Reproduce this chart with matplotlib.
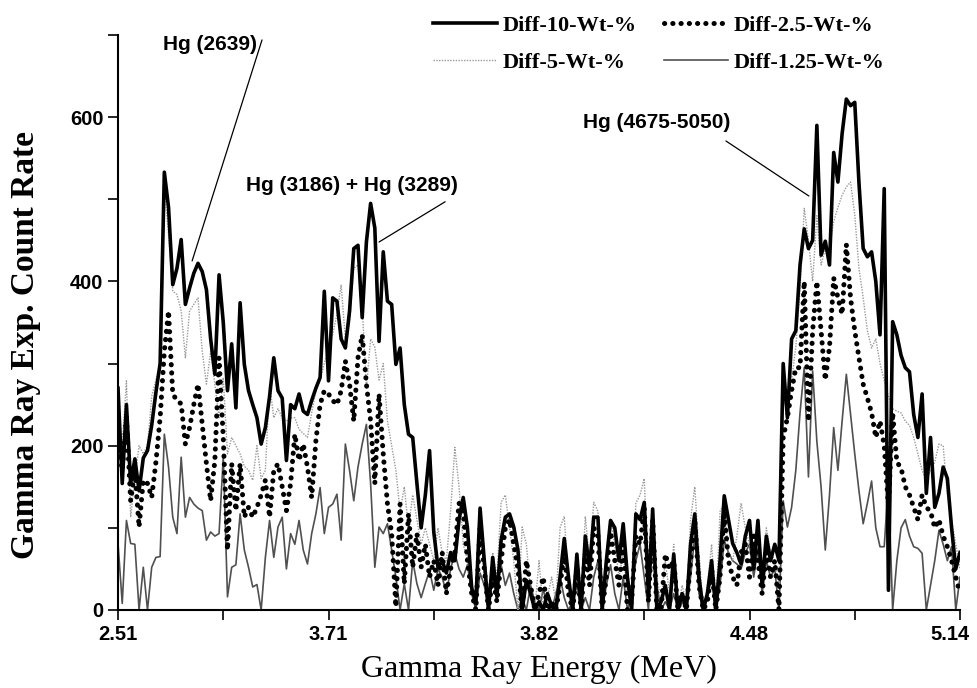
import numpy as np
import matplotlib.pyplot as plt
from matplotlib.lines import Line2D
from matplotlib.transforms import ScaledTranslation

# x categories (energy channels), labelled every 50 points
tick_labels = ["2.51", "3.71", "3.82", "4.48", "5.14"]

diff_10 = [270, 154, 250, 154, 184, 145, 185, 194, 225, 265,
           300, 533, 490, 396, 416, 451, 372, 392, 410, 422,
           412, 390, 330, 287, 408, 350, 267, 324, 246, 374,
           299, 267, 250, 234, 202, 222, 260, 307, 267, 258,
           182, 250, 245, 263, 242, 238, 255, 270, 283, 388,
           279, 380, 376, 330, 319, 364, 440, 444, 356, 448,
           495, 465, 327, 436, 376, 372, 299, 319, 250, 214,
           210, 154, 100, 140, 194, 95, 52, 60, 45, 70,
           60, 110, 137, 100, 27, 10, 124, 60, 0, 64,
           16, 85, 113, 117, 101, 73, 0, 36, 20, 0,
           10, 0, 20, 5, 0, 40, 87, 40, 0, 68,
           0, 90, 50, 113, 113, 0, 60, 109, 100, 60,
           105, 40, 0, 117, 110, 131, 20, 123, 0, 10,
           30, 0, 68, 0, 20, 0, 80, 117, 40, 0,
           20, 60, 0, 60, 139, 110, 81, 70, 56, 90,
           109, 50, 109, 30, 90, 60, 80, 60, 300, 234,
           330, 340, 420, 464, 440, 450, 590, 432, 449, 420,
           557, 521, 580, 622, 614, 618, 520, 440, 430, 436,
           400, 335, 513, 24, 351, 335, 310, 295, 290, 238,
           210, 263, 142, 210, 125, 142, 174, 160, 100, 50,
           70]

diff_5 = [230, 200, 279, 113, 160, 200, 190, 200, 260, 280,
          300, 517, 457, 388, 384, 364, 307, 364, 372, 380,
          315, 275, 315, 275, 234, 283, 190, 210, 200, 190,
          175, 170, 158, 200, 160, 170, 275, 234, 245, 234,
          230, 234, 234, 220, 215, 210, 240, 267, 280, 300,
          320, 336, 360, 396, 330, 350, 416, 420, 370, 270,
          330, 320, 280, 300, 230, 200, 170, 120, 150, 100,
          140, 110, 80, 100, 80, 60, 100, 70, 60, 120,
          198, 150, 80, 60, 30, 20, 110, 40, 0, 70,
          40, 131, 140, 100, 60, 0, 101, 80, 20, 0,
          60, 0, 15, 40, 10, 100, 114, 30, 0, 60,
          20, 114, 60, 131, 120, 20, 70, 110, 80, 40,
          70, 20, 0, 130, 140, 160, 30, 120, 40, 10,
          60, 20, 80, 0, 30, 10, 110, 150, 70, 0,
          30, 80, 0, 120, 130, 70, 60, 90, 130, 100,
          80, 60, 110, 50, 100, 70, 60, 30, 250, 260,
          280, 320, 390, 489, 450, 400, 480, 420, 440, 440,
          473, 490, 505, 515, 521, 481, 416, 380, 340, 319,
          330, 300, 280, 260, 245, 242, 240, 230, 225, 210,
          190, 170, 158, 170, 180, 202, 200, 140, 110, 80,
          50]

diff_2_5 = [206, 170, 234, 133, 170, 101, 158, 154, 137, 180,
            234, 315, 364, 263, 255, 251, 202, 222, 250, 275,
            226, 178, 133, 182, 307, 210, 73, 178, 121, 178,
            113, 125, 113, 125, 140, 158, 113, 170, 178, 150,
            121, 154, 214, 182, 202, 174, 137, 206, 250, 267,
            263, 255, 250, 267, 303, 275, 230, 307, 335, 275,
            230, 154, 263, 190, 129, 93, 4, 129, 32, 117,
            52, 93, 52, 80, 40, 60, 30, 70, 20, 50,
            70, 130, 120, 60, 20, 0, 100, 50, 0, 40,
            10, 60, 100, 110, 80, 50, 0, 60, 30, 0,
            20, 40, 0, 10, 0, 30, 70, 20, 0, 50,
            0, 70, 30, 100, 90, 0, 40, 95, 60, 30,
            80, 0, 10, 90, 80, 125, 10, 110, 0, 0,
            68, 50, 60, 0, 20, 0, 60, 110, 30, 0,
            10, 50, 0, 40, 120, 60, 40, 30, 70, 80,
            40, 90, 60, 20, 70, 40, 60, 0, 210, 234,
            267, 295, 295, 400, 230, 340, 400, 340, 280, 320,
            404, 380, 360, 445, 380, 340, 307, 275, 258, 240,
            210, 230, 200, 125, 240, 180, 173, 150, 140, 125,
            110, 140, 125, 120, 100, 110, 90, 77, 60, 40,
            20]

diff_1_25 = [81, 8, 109, 81, 80, 0, 52, 0, 52, 64,
             65, 214, 174, 113, 93, 186, 113, 137, 129, 124,
             121, 85, 95, 90, 93, 186, 16, 52, 55, 117,
             73, 52, 28, 31, 0, 64, 109, 64, 101, 113,
             50, 93, 80, 109, 73, 56, 93, 117, 149, 93,
             125, 129, 141, 85, 202, 170, 133, 174, 202, 226,
             154, 52, 101, 93, 105, 73, 40, 0, 32, 0,
             60, 32, 15, 32, 48, 24, 50, 40, 20, 50,
             69, 50, 40, 55, 20, 0, 45, 30, 0, 40,
             25, 55, 30, 45, 20, 0, 15, 0, 30, 10,
             0, 25, 5, 0, 20, 40, 15, 0, 10, 30,
             0, 15, 0, 40, 60, 0, 30, 55, 20, 0,
             40, 0, 20, 60, 80, 40, 0, 90, 30, 0,
             10, 0, 20, 0, 10, 0, 40, 90, 20, 0,
             15, 40, 0, 30, 85, 70, 60, 56, 50, 70,
             80, 40, 75, 20, 60, 40, 50, 0, 133, 101,
             125, 170, 240, 295, 162, 291, 205, 150, 73, 140,
             222, 170, 230, 287, 238, 190, 145, 105, 130, 157,
             100, 77, 77, 157, 0, 60, 100, 110, 90, 77,
             75, 69, 0, 30, 60, 97, 80, 60, 77, 0,
             40]

x = np.arange(len(diff_10))

serif = ["Liberation Serif", "DejaVu Serif"]
narrow = ["Liberation Sans Narrow", "Liberation Sans", "DejaVu Sans"]

fig = plt.figure(figsize=(9.77, 6.88), dpi=100)
ax = fig.add_axes([0.1208, 0.1134, 0.8618, 0.8357])

ax.plot(x, diff_1_25, color="#505050", lw=1.2, zorder=2)
ax.plot(x, diff_5, color="#9a9a9a", lw=1.0, ls=(0, (1, 1)), zorder=3)
ax.plot(x, diff_10, color="black", lw=2.6, zorder=4)
ax.plot(x, diff_2_5, color="black", lw=3.6, ls=(0, (0.05, 1.6)),
        dash_capstyle="round", zorder=5)

ax.set_xlim(0, len(x) - 1)
ax.set_ylim(0, 700)

ax.set_xticks(np.arange(0, len(x), 25))
ax.set_xticklabels([tick_labels[i // 2] if i % 2 == 0 else "" for i in range(9)])
ax.set_yticks(np.arange(0, 701, 100))
ax.set_yticklabels(["0", "", "200", "", "400", "", "600", ""])
ax.tick_params(direction="out", length=7, width=1.2, colors="black", labelsize=14.5)
for lab in ax.get_xticklabels() + ax.get_yticklabels():
    lab.set_family(narrow)
    lab.set_fontweight("bold")
# keep the last x label inside the figure
last = ax.get_xticklabels()[-1]
last.set_transform(last.get_transform() + ScaledTranslation(-7 / 72, 0, fig.dpi_scale_trans))

for s in ["top", "right"]:
    ax.spines[s].set_visible(False)
for s in ["left", "bottom"]:
    ax.spines[s].set_linewidth(1.5)

ax.set_xlabel("Gamma Ray Energy (MeV)", family=serif, fontsize=23, labelpad=8)
ax.set_ylabel("Gamma Ray Exp. Count Rate", family=serif, fontsize=24, fontweight="bold")
ax.yaxis.set_label_coords(-0.092, 0.46)

# peak annotations
ann = dict(family=narrow, fontsize=15, fontweight="bold", ha="center", va="center")
ax.text(21.9, 689, "Hg (2639)", **ann)
ax.text(55.6, 517, "Hg (3186) + Hg (3289)", **ann)
ax.text(128, 593, "Hg (4675-5050)", **ann)
lp = dict(arrowstyle="-", color="black", lw=0.9, shrinkA=0, shrinkB=0)
ax.annotate("", xy=(17.6, 425), xytext=(34.2, 694), arrowprops=lp, annotation_clip=False)
ax.annotate("", xy=(62, 448), xytext=(77.7, 497), arrowprops=lp)
ax.annotate("", xy=(164.1, 504), xytext=(144.4, 571), arrowprops=lp)

handles = [
    Line2D([], [], color="black", lw=2.6),
    Line2D([], [], color="#9a9a9a", lw=1.0, ls=(0, (1, 1))),
    Line2D([], [], color="black", lw=3.6, ls=(0, (0.05, 1.6)), dash_capstyle="round"),
    Line2D([], [], color="#505050", lw=1.2),
]
labels = ["Diff-10-Wt-%", "Diff-5-Wt-%", "Diff-2.5-Wt-%", "Diff-1.25-Wt-%"]
fig.legend(handles, labels, loc="upper left", bbox_to_anchor=(0.443, 0.978),
           ncol=2, frameon=False, borderpad=0, borderaxespad=0,
           handlelength=2.9, handletextpad=0.25, columnspacing=1.2,
           labelspacing=0.75, prop=dict(family=serif, size=16, weight="bold"))

fig.savefig("out.png", dpi=100)
